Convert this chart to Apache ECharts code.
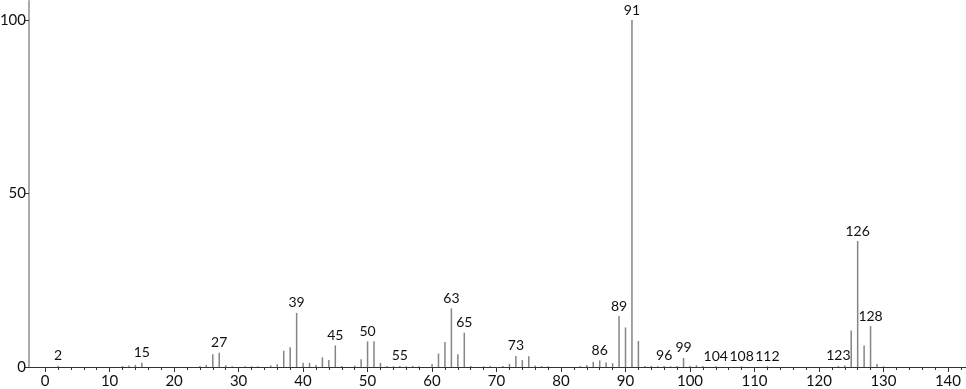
<!DOCTYPE html>
<html>
<head>
<meta charset="utf-8">
<script src="https://cdn.jsdelivr.net/npm/echarts@6/dist/echarts.min.js"></script>
<style>
html,body{margin:0;padding:0;background:#fff;}
#chart{width:966px;height:389px;}
</style>
</head>
<body>
<div id="chart"></div>
<script>
const mz = [2, 12, 13, 14, 15, 24, 25, 26, 27, 28, 29, 31, 32, 33, 35, 36, 37, 38, 39, 40, 41, 42, 43, 44, 45, 46, 48, 49, 50, 51, 52, 53, 54, 55, 56, 57, 58, 60, 61, 62, 63, 64, 65, 66, 68, 69, 71, 72, 73, 74, 75, 76, 77, 78, 83, 84, 85, 86, 87, 88, 89, 90, 91, 92, 93, 94, 95, 96, 97, 98, 99, 100, 101, 102, 104, 108, 112, 123, 124, 125, 126, 127, 128, 129, 130];
const intensity = [0.3, 0.3, 0.4, 0.6, 1.2, 0.3, 0.6, 3.7, 4.1, 0.5, 0.2, 0.2, 0.2, 0.2, 0.4, 0.8, 4.7, 5.7, 15.6, 1.2, 1.2, 0.6, 2.8, 2.0, 6.2, 0.3, 0.4, 2.2, 7.4, 7.4, 1.2, 0.3, 0.2, 0.3, 0.2, 0.3, 0.2, 0.9, 3.9, 7.2, 16.9, 3.7, 9.9, 0.3, 0.2, 0.3, 0.3, 0.9, 3.2, 2.0, 3.1, 0.4, 0.3, 0.2, 0.3, 0.6, 1.5, 1.9, 1.3, 1.1, 14.7, 11.4, 100, 7.5, 0.3, 0.3, 0.2, 0.3, 0.2, 0.3, 2.6, 0.3, 0.5, 0.3, 0.2, 0.2, 0.2, 0.3, 0.4, 10.5, 36.3, 6.2, 11.8, 0.9, 0.2];
const labeledPeaks = [2, 15, 27, 39, 45, 50, 55, 63, 65, 73, 86, 89, 91, 96, 99, 104, 108, 112, 123, 126, 128];
const xTickLabels = [0, 10, 20, 30, 40, 50, 60, 70, 80, 90, 100, 110, 120, 130, 140];
const xMinorTicks = [2, 4, 6, 8, 12, 14, 16, 18, 22, 24, 26, 28, 32, 34, 36, 38, 42, 44, 46, 48, 52, 54, 56, 58, 62, 64, 66, 68, 72, 74, 76, 78, 82, 84, 86, 88, 92, 94, 96, 98, 102, 104, 106, 108, 112, 114, 116, 118, 122, 124, 126, 128, 132, 134, 136, 138, 142];
const yTickLabels = [0, 50, 100];

const FONT = 'Lato, "DejaVu Sans", sans-serif';

const seriesData = mz.map((m, i) => {
  const item = { value: [m, intensity[i]] };
  if (labeledPeaks.includes(m)) {
    item.label = { show: true };
  }
  return item;
});

const chart = echarts.init(document.getElementById('chart'), null, { renderer: 'canvas' });
chart.setOption({
  animation: false,
  backgroundColor: '#ffffff',
  grid: { left: 29, right: 0, top: 1, bottom: 22, containLabel: false, outerBoundsMode: 'none' },
  xAxis: [{
    type: 'value',
    min: -2.5,
    max: 142.8,
    axisLine: { show: true, onZero: false, lineStyle: { color: '#333', width: 1 } },
    axisTick: { show: true, length: 5, customValues: xTickLabels, lineStyle: { color: '#333' } },
    axisLabel: { show: true, customValues: xTickLabels, color: '#111', fontSize: 15, fontFamily: FONT, margin: 7, showMinLabel: true, showMaxLabel: true },
    splitLine: { show: false }
  }, {
    type: 'value',
    min: -2.5,
    max: 142.8,
    position: 'bottom',
    axisLine: { show: false, onZero: false },
    axisTick: { show: true, length: 3, customValues: xMinorTicks, lineStyle: { color: '#333' } },
    axisLabel: { show: false },
    splitLine: { show: false }
  }],
  yAxis: {
    type: 'value',
    min: 0,
    max: 105.5,
    axisLine: { show: true, onZero: false, lineStyle: { color: '#aaa', width: 2 } },
    axisTick: { show: true, length: 4, customValues: yTickLabels, lineStyle: { color: '#333' } },
    axisLabel: { show: true, customValues: yTickLabels, color: '#111', fontSize: 15, fontFamily: FONT, margin: 3 },
    splitLine: { show: false }
  },
  series: [{
    type: 'bar',
    xAxisIndex: 0,
    barWidth: 1.5,
    itemStyle: { color: '#858585' },
    label: {
      show: false,
      position: 'top',
      distance: 3,
      color: '#111',
      fontSize: 14,
      fontFamily: FONT,
      formatter: p => String(p.value[0])
    },
    data: seriesData
  }]
});
</script>
</body>
</html>
